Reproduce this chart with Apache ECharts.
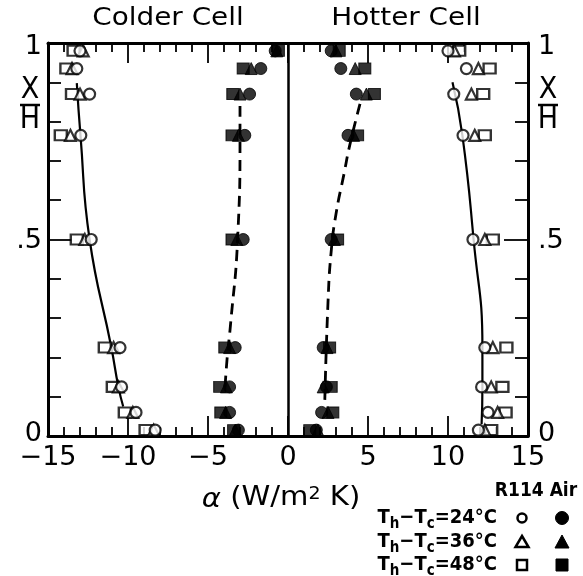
<!DOCTYPE html>
<html>
<head>
<meta charset="utf-8">
<script src="https://cdn.jsdelivr.net/npm/echarts@6/dist/echarts.min.js"></script>
<style>html,body{margin:0;padding:0;background:#fff;}#c{width:583px;height:576px;}</style>
</head>
<body>
<div id="c"></div>
<script>
// vertical positions x/H of measurement rows
const rows = [0.98, 0.935, 0.87, 0.765, 0.5, 0.225, 0.125, 0.06, 0.015];

// Colder cell, R114 (open symbols)
const coldR114_24 = [-13.0, -13.2, -12.4, -12.95, -12.3, -10.5, -10.4, -9.5, -8.3];
const coldR114_36 = [-12.8, -13.5, -13.0, -13.6, -12.7, -10.9, -10.6, -9.7, -8.4];
const coldR114_48 = [-13.4, -13.85, -13.5, -14.2, -13.2, -11.45, -10.95, -10.2, -8.9];
// Hotter cell, R114 (open symbols)
const hotR114_24 = [10.0, 11.15, 10.36, 10.94, 11.56, 12.3, 12.1, 12.5, 11.9];
const hotR114_36 = [10.4, 11.9, 11.46, 11.67, 12.3, 12.8, 12.7, 13.1, 12.3];
const hotR114_48 = [10.7, 12.6, 12.2, 12.3, 12.8, 13.65, 13.4, 13.6, 12.7];
// Colder cell, Air (filled symbols)
const coldAir_24 = [-0.8, -1.7, -2.4, -2.7, -2.8, -3.3, -3.65, -3.65, -3.1];
const coldAir_36 = [-0.7, -2.3, -3.0, -3.1, -3.2, -3.65, -3.85, -3.9, -3.3];
const coldAir_48 = [-0.6, -2.8, -3.45, -3.5, -3.5, -3.95, -4.27, -4.2, -3.4];
// Hotter cell, Air (filled symbols)
const hotAir_24 = [2.7, 3.3, 4.27, 3.75, 2.7, 2.2, 2.4, 2.1, 1.77];
const hotAir_36 = [3.0, 4.2, 4.9, 4.1, 2.9, 2.44, 2.2, 2.5, 1.86];
const hotAir_48 = [3.2, 4.8, 5.4, 4.35, 3.1, 2.6, 2.7, 2.8, 1.36];

// fitted curves
const coldR114FitY = [0.898, 0.765, 0.5, 0.225, 0.125, 0.075];
const coldR114FitX = [-13.2, -12.97, -12.4, -11.04, -10.6, -10.3];
const hotR114FitY = [0.9, 0.765, 0.5, 0.225, 0.125, 0.03];
const hotR114FitX = [10.28, 10.9, 11.6, 12.15, 12.15, 12.1];
const coldAirFitY = [0.84, 0.765, 0.5, 0.28, 0.2, 0.115];
const coldAirFitX = [-3.0, -3.0, -3.15, -3.6, -3.8, -3.95];
const hotAirFitY = [0.845, 0.74, 0.667, 0.565, 0.47, 0.34, 0.09];
const hotAirFitX = [4.5, 3.86, 3.5, 3.0, 2.7, 2.5, 2.3];

const xTicks = [-15, -10, -5, 0, 5, 10, 15];
const yTickLabels = {0: '{z|0}', 0.5: '{h|.5}', 1: '{o|1}'};
const titles = ['Colder Cell', 'Hotter Cell'];
const tempLabels = ['24', '36', '48'];

const FONT = 'DejaVu Sans';
const chart = echarts.init(document.getElementById('c'), null, {renderer: 'canvas'});

function pts(xs, ys) { return xs.map((x, i) => [x, ys[i]]); }
function scatter(xs, sym, filled, size) {
  return {
    type: 'scatter', xAxisIndex: 0, yAxisIndex: 0, z: 5,
    symbol: sym, symbolSize: size,
    data: pts(xs, rows),
    itemStyle: filled ? {color: '#000', borderColor: '#000', borderWidth: 1}
                      : {color: '#fff', borderColor: '#000', borderWidth: 2.2},
    silent: true
  };
}
function fit(xs, ys, dashed) {
  return {
    type: 'line', xAxisIndex: 0, yAxisIndex: 0, z: 3,
    data: pts(xs, ys), smooth: true, symbol: 'none',
    lineStyle: {color: '#000', width: dashed ? 2.8 : 2.2, type: dashed ? [11, 7] : 'solid'},
    silent: true
  };
}

const xAxisBase = {
  type: 'value', min: -15, max: 15, interval: 5,
  axisLine: {show: true, onZero: false, lineStyle: {color: '#000', width: 3}},
  axisTick: {show: true, inside: true, length: 20, lineStyle: {color: '#000', width: 1.8}},
  minorTick: {show: true, splitNumber: 5, length: 9, lineStyle: {color: '#000', width: 1.8}},
  splitLine: {show: false}, minorSplitLine: {show: false}
};
const yRich = {
  z: {fontSize: 27, fontFamily: FONT, color: '#000', padding: [0, 0, 4, 0]},
  h: {fontSize: 27, fontFamily: FONT, color: '#000', padding: [2, 0, 0, 0]},
  o: {fontSize: 27, fontFamily: FONT, color: '#000', padding: [8, 0, 0, 0]}
};
const yAxisBase = {
  type: 'value', min: 0, max: 1, interval: 0.5,
  axisLine: {show: true, onZero: false, lineStyle: {color: '#000', width: 3}},
  axisTick: {show: true, inside: true, length: 24, lineStyle: {color: '#000', width: 1.8}},
  minorTick: {show: true, splitNumber: 5, length: 13, lineStyle: {color: '#000', width: 1.8}},
  splitLine: {show: false}, minorSplitLine: {show: false},
  axisLabel: {show: true, color: '#000', fontSize: 27, fontFamily: FONT, rich: yRich,
    formatter: v => yTickLabels[v] !== undefined ? yTickLabels[v] : ''}
};

const LFONT = 'DejaVu Sans Condensed';
const legRich = {
  m: {fontSize: 20, fontWeight: 'bold', fontFamily: LFONT, color: '#000', lineHeight: 22, padding: [0, 0, 4, 0], verticalAlign: 'bottom'},
  s: {fontSize: 15, fontWeight: 'bold', fontFamily: LFONT, color: '#000', lineHeight: 16, verticalAlign: 'bottom'}
};
const legendY = [518, 542, 565];
const legendGraphics = [];
legendGraphics.push({type: 'text', x: 536, y: 491, style: {text: 'R114 Air', font: 'bold 19px ' + LFONT, fill: '#000', align: 'center', verticalAlign: 'middle'}});
const legSyms = [
  {open: {type: 'circle', shape: {cx: 0, cy: 0, r: 4.5}}, fill: {type: 'circle', shape: {cx: 0, cy: 0, r: 6.5}}},
  {open: {type: 'polygon', shape: {points: [[0, -6], [6.5, 5], [-6.5, 5]]}}, fill: {type: 'polygon', shape: {points: [[0, -7], [7, 6], [-7, 6]]}}},
  {open: {type: 'rect', shape: {x: -5, y: -5, width: 10, height: 10}}, fill: {type: 'rect', shape: {x: -6, y: -6, width: 12, height: 12}}}
];
tempLabels.forEach((t, i) => {
  legendGraphics.push({type: 'text', x: 497, y: legendY[i] + 3, style: {
    text: '{m|T}{s|h}{m|−T}{s|c}{m|=' + t + '°C}', rich: legRich, align: 'right', verticalAlign: 'middle'}});
  legendGraphics.push(Object.assign({}, legSyms[i].open, {x: 522, y: legendY[i], style: {fill: '#fff', stroke: '#000', lineWidth: 2.5}}));
  legendGraphics.push(Object.assign({}, legSyms[i].fill, {x: 562, y: legendY[i], style: {fill: '#000', stroke: '#000', lineWidth: 1}}));
});

function xh(cx) {
  return [
    {type: 'text', x: cx, y: 90, style: {text: 'X', font: '30px DejaVu Sans Condensed', fill: '#000', align: 'center', verticalAlign: 'middle'}},
    {type: 'line', shape: {x1: cx - 10, y1: 105, x2: cx + 10, y2: 105}, style: {stroke: '#000', lineWidth: 2.5}},
    {type: 'text', x: cx, y: 120, style: {text: 'H', font: '30px DejaVu Sans Condensed', fill: '#000', align: 'center', verticalAlign: 'middle'}}
  ];
}
function titleText(txt, cx) {
  return {type: 'text', x: cx, y: 19, scaleX: 1.16, scaleY: 1,
    style: {text: txt, font: '24px ' + FONT, fill: '#000', align: 'center', verticalAlign: 'middle'}};
}
const axisName = {type: 'text', x: 281, y: 498, scaleX: 1.12,
  style: {text: '{a|α} (W/m{p|2} K)', align: 'center', verticalAlign: 'middle',
    rich: {
      a: {fontSize: 26, fontStyle: 'italic', fontFamily: FONT, fill: '#000', lineHeight: 30, verticalAlign: 'bottom'},
      p: {fontSize: 17, fontFamily: FONT, fill: '#000', lineHeight: 30, padding: [0, 0, 10, 0], verticalAlign: 'bottom'}
    },
    font: '26px ' + FONT, fill: '#000'}};

const option = {
  animation: false,
  backgroundColor: '#fff',
  grid: {left: 48, right: 55, top: 43, bottom: 140, containLabel: false},
  xAxis: [
    Object.assign({}, xAxisBase, {position: 'bottom',
      axisLabel: {show: true, color: '#000', fontSize: 27, fontFamily: FONT, margin: 8,
        formatter: v => xTicks.includes(v) ? String(v).replace('-', '−') : ''}
    }),
    Object.assign({}, xAxisBase, {position: 'top', axisLabel: {show: false}})
  ],
  yAxis: [
    Object.assign({}, yAxisBase, {position: 'left', axisLabel: Object.assign({}, yAxisBase.axisLabel, {margin: 6})}),
    Object.assign({}, yAxisBase, {position: 'right', axisLabel: Object.assign({}, yAxisBase.axisLabel, {margin: 10})})
  ],
  series: [
    fit(coldR114FitX, coldR114FitY, false),
    fit(hotR114FitX, hotR114FitY, false),
    fit(coldAirFitX, coldAirFitY, true),
    fit(hotAirFitX, hotAirFitY, true),
    scatter(coldR114_48, 'rect', false, [12, 10]),
    scatter(coldR114_36, 'triangle', false, 11),
    scatter(coldR114_24, 'circle', false, 11),
    scatter(hotR114_48, 'rect', false, [12, 10]),
    scatter(hotR114_36, 'triangle', false, 11),
    scatter(hotR114_24, 'circle', false, 11),
    scatter(coldAir_48, 'rect', true, [12, 11]),
    scatter(coldAir_36, 'triangle', true, 12),
    scatter(coldAir_24, 'circle', true, 12),
    scatter(hotAir_48, 'rect', true, [12, 11]),
    scatter(hotAir_36, 'triangle', true, 12),
    scatter(hotAir_24, 'circle', true, 12),
    {type: 'line', data: [], xAxisIndex: 0, yAxisIndex: 0,
      markLine: {symbol: 'none', silent: true, label: {show: false},
        lineStyle: {color: '#000', width: 2.5, type: 'solid'}, data: [{xAxis: 0}]}}
  ],
  graphic: legendGraphics.concat(xh(30), xh(548), [titleText(titles[0], 168), titleText(titles[1], 406), axisName])
};
chart.setOption(option);
</script>
</body>
</html>
